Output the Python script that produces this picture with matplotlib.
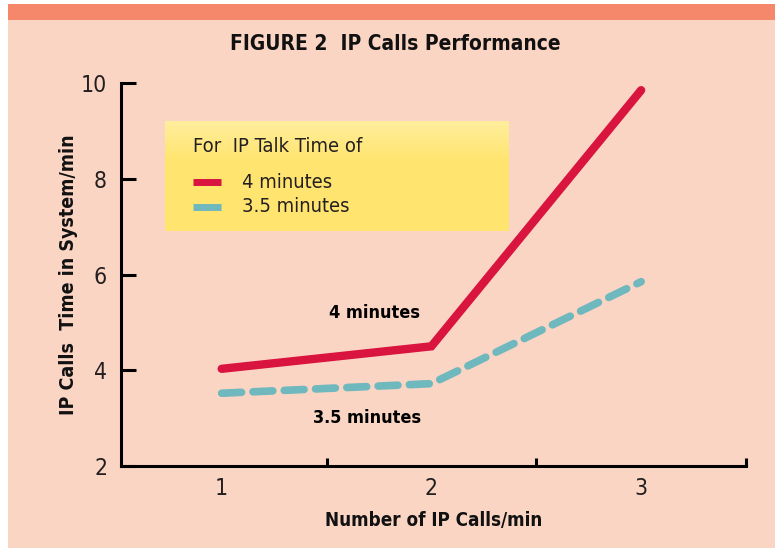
import numpy as np
import matplotlib
matplotlib.use("Agg")
import matplotlib.pyplot as plt
from matplotlib.lines import Line2D
from matplotlib.patches import Rectangle
from matplotlib import font_manager as fm

# ---- data ----
calls = [1, 2, 3]
time_4min = [4.03, 4.50, 9.85]
time_35min = [3.52, 3.72, 5.85]
series_labels = ["4 minutes", "3.5 minutes"]
x_ticklabels = ["1", "2", "3"]
y_ticks = [2, 4, 6, 8, 10]

BG = "#FBD5C4"
BAND = "#F5876A"
RED = "#D8143F"
BLUE = "#6FB8BE"
TXT = "#231F20"

# choose a condensed font if available
_names = {f.name for f in fm.fontManager.ttflist}
_cond = [f for f in fm.fontManager.ttflist if f.name == "DejaVu Sans" and f.stretch == "condensed"]
if "Liberation Sans Narrow" in _names:
    FONT = dict(family=["Liberation Sans Narrow", "DejaVu Sans"])
elif _cond:
    FONT = dict(family=["DejaVu Sans"], fontstretch="condensed")
else:
    FONT = dict(family=["DejaVu Sans"])

fig = plt.figure(figsize=(7.75, 5.48), dpi=100, facecolor="white")
W, H = 775, 548

def fx(px):
    return px / W

def fy(py):
    return 1 - py / H

# background panel (white strips at left and top)
fig.patches.append(Rectangle((fx(8), -0.05), 1.1, fy(4) + 0.05, transform=fig.transFigure,
                             facecolor=BG, edgecolor="none", zorder=-10))
fig.patches.append(Rectangle((fx(8), fy(20)), 1.1, fy(4) - fy(20), transform=fig.transFigure,
                             facecolor=BAND, edgecolor="none", zorder=-10))

ax = fig.add_axes([fx(121), fy(466), fx(746) - fx(121), fy(83) - fy(466)])
ax.set_facecolor("none")

ax.plot(calls, time_4min, color=RED, lw=6, solid_capstyle="round", solid_joinstyle="miter", zorder=3)
ax.plot(calls, time_35min, color=BLUE, lw=5.5, dashes=(2.6, 1.5), dash_capstyle="round", zorder=3)

ax.set_xlim(0.52, 3.5)
ax.set_ylim(2, 10)
for s in ["top", "right"]:
    ax.spines[s].set_visible(False)
for s in ["left", "bottom"]:
    ax.spines[s].set_linewidth(2.2)
    ax.spines[s].set_color("black")

ax.set_yticks(y_ticks)
ax.set_yticklabels([str(v) for v in y_ticks], fontsize=16.5, color=TXT, **FONT)
ax.tick_params(axis="y", direction="in", length=11, width=2.2, pad=10)

ax.set_xticks(calls)
ax.set_xticklabels(x_ticklabels, fontsize=16.5, color=TXT, **FONT)
ax.set_xticks([1.5, 2.5, 3.5], minor=True)
ax.tick_params(axis="x", which="major", length=0, pad=8)
ax.tick_params(axis="x", which="minor", direction="in", length=6, width=2.2)

ax.set_xlabel("Number of IP Calls/min", fontsize=13.5, fontweight="bold",
              color="#111111", labelpad=8, **FONT)
ax.set_ylabel("IP Calls  Time in System/min", fontsize=14, fontweight="bold",
              color="#111111", labelpad=2, **FONT)

# in-plot series labels
ax.annotate(series_labels[0], xy=(calls[1], time_4min[1]), xytext=(-41, 24),
            textcoords="offset points", ha="center", va="center",
            fontsize=13, fontweight="bold", color="black", **FONT)
ax.annotate(series_labels[1], xy=(calls[1], time_35min[1]), xytext=(-46, -25),
            textcoords="offset points", ha="center", va="center",
            fontsize=13, fontweight="bold", color="black", **FONT)

# title
fig.text(fx(395), fy(44), "FIGURE 2  IP Calls Performance", ha="center", va="center",
         fontsize=15, fontweight="bold", color="#111111", **FONT)

# legend box with yellow gradient
lax = fig.add_axes([fx(165), fy(231), fx(509) - fx(165), fy(121) - fy(231)])
lax.set_axis_off()
top = np.array([255, 238, 158]) / 255
mid = np.array([255, 229, 112]) / 255
n = 100
t = np.clip(np.linspace(0, 1, n) / 0.35, 0, 1)[:, None]
grad = top * (1 - t) + mid * t
lax.imshow(grad[:, None, :], aspect="auto", extent=(0, 1, 0, 1), origin="upper")
lax.set_xlim(0, 1)
lax.set_ylim(0, 1)

fig.text(fx(193), fy(147), "For  IP Talk Time of", ha="left", va="center",
         fontsize=14.5, color=TXT, **FONT)
for ypx, col, lab in [(182, RED, series_labels[0]), (207, BLUE, series_labels[1])]:
    fig.lines.append(Line2D([fx(193), fx(221)], [fy(ypx), fy(ypx)], transform=fig.transFigure,
                            color=col, lw=5, solid_capstyle="butt", zorder=5))
    fig.text(fx(242), fy(ypx), lab, ha="left", va="center",
             fontsize=14.5, color=TXT, zorder=5, **FONT)

fig.savefig("out.png", dpi=100, facecolor="white")
